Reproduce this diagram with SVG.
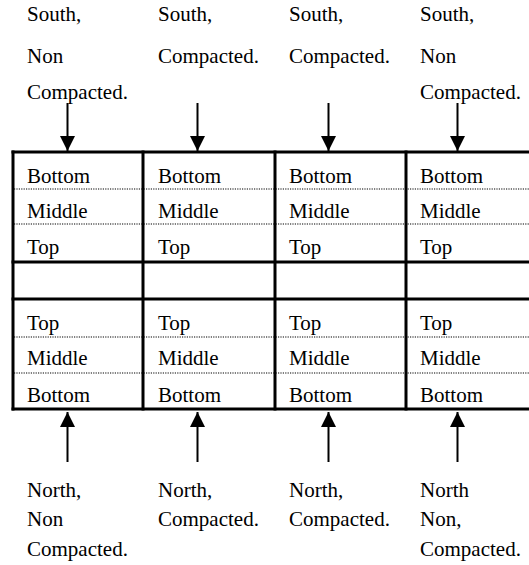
<svg xmlns="http://www.w3.org/2000/svg" width="529" height="565" viewBox="0 0 529 565">
<style>
.t text{font-family:'Liberation Serif','Times New Roman','DejaVu Serif',serif;font-size:21px;fill:#000}
.thick{stroke:#000;stroke-width:3;fill:none}
.dot{stroke:#000;stroke-width:1.2;stroke-dasharray:1.2 1.2;fill:none}
.shaft{stroke:#000;stroke-width:2;fill:none}
</style>
<defs>
<marker id="ah" viewBox="0 0 10 10" refX="10" refY="5" markerWidth="7.5" markerHeight="7.5" markerUnits="strokeWidth" orient="auto">
<path d="M0,0 L10,5 L0,10 Z" fill="#000"/>
</marker>
</defs>
<rect width="529" height="565" fill="#fff"/>
<g id="table">
<line class="thick" x1="11.5" y1="152" x2="529" y2="152"/>
<line class="thick" x1="11.5" y1="262" x2="529" y2="262"/>
<line class="thick" x1="11.5" y1="299" x2="529" y2="299"/>
<line class="thick" x1="11.5" y1="409" x2="529" y2="409"/>
<line class="thick" x1="13" y1="150.5" x2="13" y2="410.5"/>
<line class="thick" x1="143" y1="150.5" x2="143" y2="410.5"/>
<line class="thick" x1="275" y1="150.5" x2="275" y2="410.5"/>
<line class="thick" x1="406" y1="150.5" x2="406" y2="410.5"/>
<line class="dot" x1="14" y1="189" x2="529" y2="189"/>
<line class="dot" x1="14" y1="224" x2="529" y2="224"/>
<line class="dot" x1="14" y1="337" x2="529" y2="337"/>
<line class="dot" x1="14" y1="373" x2="529" y2="373"/>
</g>
<g class="t" font-family="Liberation Serif, serif" font-size="21">
<g id="cells">
<g id="col1"><text x="27" y="183">Bottom</text><text x="27" y="218">Middle</text><text x="27" y="254">Top</text><text x="27" y="330">Top</text><text x="27" y="365">Middle</text><text x="27" y="402">Bottom</text></g>
<g id="col2"><text x="158" y="183">Bottom</text><text x="158" y="218">Middle</text><text x="158" y="254">Top</text><text x="158" y="330">Top</text><text x="158" y="365">Middle</text><text x="158" y="402">Bottom</text></g>
<g id="col3"><text x="289" y="183">Bottom</text><text x="289" y="218">Middle</text><text x="289" y="254">Top</text><text x="289" y="330">Top</text><text x="289" y="365">Middle</text><text x="289" y="402">Bottom</text></g>
<g id="col4"><text x="420" y="183">Bottom</text><text x="420" y="218">Middle</text><text x="420" y="254">Top</text><text x="420" y="330">Top</text><text x="420" y="365">Middle</text><text x="420" y="402">Bottom</text></g>
</g>
<g id="s1"><text x="27" y="21">South,</text><text x="27" y="63">Non</text><text x="27" y="99">Compacted.</text></g>
<g id="s2"><text x="158" y="21">South,</text><text x="158" y="63">Compacted.</text></g>
<g id="s3"><text x="289" y="21">South,</text><text x="289" y="63">Compacted.</text></g>
<g id="s4"><text x="420" y="21">South,</text><text x="420" y="63">Non</text><text x="420" y="99">Compacted.</text></g>
<g id="n1"><text x="27" y="497">North,</text><text x="27" y="526">Non</text><text x="27" y="556">Compacted.</text></g>
<g id="n2"><text x="158" y="497">North,</text><text x="158" y="526">Compacted.</text></g>
<g id="n3"><text x="289" y="497">North,</text><text x="289" y="526">Compacted.</text></g>
<g id="n4"><text x="420" y="497">North</text><text x="420" y="526">Non,</text><text x="420" y="556">Compacted.</text></g>
</g>
<g id="connectors">
<line class="shaft" x1="67.5" y1="103" x2="67.5" y2="151" marker-end="url(#ah)"/>
<line class="shaft" x1="197.5" y1="103" x2="197.5" y2="151" marker-end="url(#ah)"/>
<line class="shaft" x1="328.5" y1="103" x2="328.5" y2="151" marker-end="url(#ah)"/>
<line class="shaft" x1="457.5" y1="103" x2="457.5" y2="151" marker-end="url(#ah)"/>
<line class="shaft" x1="67.5" y1="462" x2="67.5" y2="412" marker-end="url(#ah)"/>
<line class="shaft" x1="197.5" y1="462" x2="197.5" y2="412" marker-end="url(#ah)"/>
<line class="shaft" x1="328.5" y1="462" x2="328.5" y2="412" marker-end="url(#ah)"/>
<line class="shaft" x1="457.5" y1="462" x2="457.5" y2="412" marker-end="url(#ah)"/>
</g>
</svg>
